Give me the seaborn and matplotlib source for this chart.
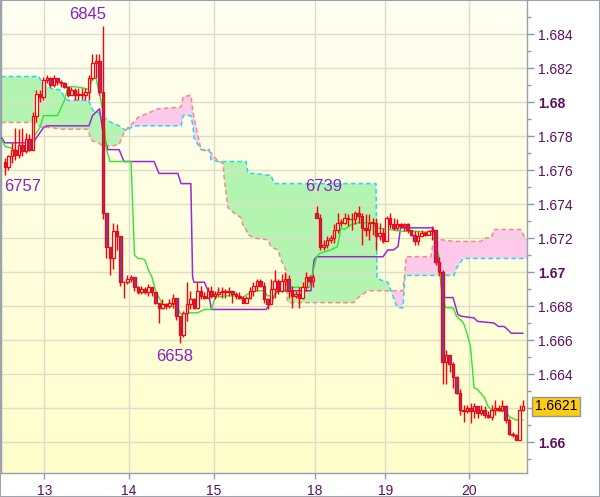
import numpy as np
import pandas as pd
import matplotlib
matplotlib.use("Agg")
import matplotlib.pyplot as plt
from matplotlib.colors import LinearSegmentedColormap
from matplotlib.patches import Rectangle
import seaborn as sns

# all prices are given in pips above 1.6600
BASE = 1.66

open_pips = [
    165, 162, 168, 172, 169, 175, 171, 178, 172, 192,
    205, 203, 213, 214, 210, 214, 212, 211, 209, 204,
    207, 204, 205, 204, 206, 214, 223, 224, 206, 135,
    115, 108, 124, 121, 94, 94, 96, 97, 91, 88,
    90, 88, 91, 88, 82, 79, 81, 80, 82, 85,
    74, 63, 76, 81, 84, 79, 89, 86, 85, 89,
    86, 87, 88, 89, 88, 89, 87, 86, 85, 82,
    85, 89, 92, 95, 92, 84, 81, 90, 95, 89,
    95, 96, 89, 86, 87, 85, 91, 97, 95, 135,
    132, 115, 116, 119, 120, 125, 129, 129, 132, 131,
    131, 135, 133, 126, 125, 129, 129, 121, 123, 118,
    132, 128, 126, 128, 127, 128, 125, 122, 118, 121,
    123, 122, 124, 125, 106, 100, 47, 51, 46, 38,
    29, 19, 18, 20, 18, 21, 17, 19, 16, 15,
    19, 20, 19, 21, 13, 5, 4, 1, 19,
]
high_pips = [
    167, 169, 176, 185, 184, 185, 182, 181, 194, 207,
    207, 215, 216, 215, 216, 214, 213, 212, 209, 209,
    208, 208, 208, 208, 216, 228, 228, 228, 245, 135,
    115, 129, 128, 121, 95, 98, 98, 97, 92, 92,
    91, 93, 91, 88, 82, 84, 82, 84, 87, 85,
    74, 77, 94, 89, 85, 94, 92, 88, 91, 92,
    89, 91, 91, 90, 91, 89, 88, 88, 86, 86,
    91, 94, 96, 96, 94, 85, 96, 101, 96, 99,
    100, 98, 92, 89, 91, 94, 100, 98, 99, 139,
    134, 119, 121, 122, 128, 135, 131, 135, 134, 135,
    136, 139, 135, 134, 134, 132, 132, 129, 126, 133,
    135, 132, 131, 129, 129, 129, 125, 124, 124, 125,
    124, 125, 127, 125, 109, 101, 54, 51, 47, 39,
    31, 22, 22, 23, 23, 21, 22, 21, 18, 22,
    25, 22, 25, 22, 14, 6, 5, 22, 25,
]
low_pips = [
    157, 160, 164, 166, 167, 168, 170, 171, 172, 188,
    200, 201, 211, 209, 209, 210, 209, 208, 203, 204,
    201, 201, 202, 201, 201, 213, 214, 204, 131, 108,
    98, 102, 113, 92, 85, 93, 94, 89, 87, 87,
    87, 86, 86, 81, 70, 78, 78, 79, 79, 72,
    58, 62, 71, 78, 78, 79, 84, 84, 85, 85,
    84, 86, 85, 85, 86, 82, 84, 84, 82, 82,
    84, 86, 89, 91, 82, 78, 81, 85, 87, 88,
    89, 85, 79, 85, 79, 84, 89, 93, 91, 132,
    113, 113, 114, 117, 117, 123, 127, 128, 127, 125,
    128, 129, 116, 121, 119, 122, 113, 119, 117, 118,
    126, 125, 125, 126, 124, 123, 121, 116, 116, 121,
    121, 122, 119, 104, 98, 34, 34, 41, 32, 28,
    16, 12, 17, 11, 14, 14, 16, 14, 14, 13,
    16, 18, 18, 11, 4, 3, 1, 1, 18,
]
close_pips = [
    162, 168, 172, 169, 175, 171, 178, 172, 192, 205,
    203, 213, 214, 210, 214, 212, 211, 209, 204, 207,
    204, 205, 204, 206, 214, 223, 224, 206, 135, 115,
    108, 124, 121, 94, 94, 96, 97, 91, 88, 90,
    88, 91, 88, 82, 79, 81, 80, 82, 85, 74,
    63, 76, 81, 84, 79, 89, 86, 85, 89, 86,
    87, 88, 89, 88, 89, 87, 86, 85, 82, 85,
    89, 92, 95, 92, 84, 81, 90, 95, 89, 95,
    96, 89, 86, 87, 85, 91, 97, 95, 97, 132,
    115, 116, 119, 120, 125, 129, 129, 132, 131, 131,
    135, 133, 126, 125, 129, 129, 121, 123, 118, 132,
    128, 126, 128, 127, 128, 125, 122, 118, 121, 123,
    122, 124, 125, 106, 100, 47, 51, 46, 38, 29,
    19, 18, 20, 18, 21, 17, 19, 16, 15, 19,
    20, 19, 21, 13, 5, 4, 1, 19, 21,
]

# Tenkan-sen (green) and Kijun-sen (purple): (bar, pips) vertices
tenkan_bar = [-1, 0, 3, 4, 5, 7, 8, 10, 11, 15, 17, 18, 20, 23, 24, 25, 26, 27, 28, 29,
              30, 36, 37, 38, 39, 40, 41, 42, 43, 44, 45, 49, 50, 51, 52, 55, 57, 59, 60, 63,
              67, 68, 70, 72, 74, 75, 77, 78, 81, 82, 87, 89, 90, 93, 95, 96, 97, 99, 101, 105,
              106, 110, 113, 118, 121, 122, 123, 124, 125, 126, 128, 129, 131, 132, 133, 134, 135, 137, 138, 139,
              142, 143, 144, 146, 148]
tenkan_pips = [178, 174, 172, 169, 172, 172, 179, 185, 192, 192, 201, 209, 209, 208, 207, 214, 214, 205, 194, 172,
               165, 165, 110, 108, 108, 107, 101, 97, 89, 85, 81, 81, 76, 74, 76, 76, 78, 78, 85, 86,
               86, 85, 88, 89, 89, 86, 86, 89, 89, 91, 91, 109, 111, 113, 115, 126, 125, 128, 129, 129,
               126, 125, 124, 124, 123, 122, 117, 109, 84, 79, 79, 74, 70, 64, 56, 32, 31, 26, 21, 19,
               18, 19, 15, 13, 13]
kijun_bar = [-1, 0, 8, 11, 12, 24, 25, 26, 27, 28, 29.4, 32.6, 34, 42.6, 44, 49.4, 50.3, 53.1, 53.6, 54,
             57, 58, 59, 74.6, 76, 77.4, 78, 87.4, 88.3, 89, 108, 109.4, 111, 112.3, 113, 122.3, 123, 124, 125, 128,
             129.4, 130.3, 134, 135, 139.7, 141, 142.6, 143.7, 144.6, 148]
kijun_pips = [179, 176, 176, 185, 186, 186, 192, 194, 196, 182, 172, 172, 165, 165, 158, 158, 152, 152, 97, 94,
              94, 89, 78, 78, 82, 88, 89, 89, 107, 109, 109, 113, 113, 115, 126, 126, 119, 105, 85, 85,
              75, 74, 73, 71, 70, 68, 68, 66, 64, 64]

# Kumo: Senkou span A (cyan) and span B (salmon) on a shared bar grid
cloud_bar = [-1.1, 8.3, 9.7, 10.9, 12.3, 13.1, 16.0, 16.9, 18.0, 23.7,
             24.6, 25.1, 26.6, 27.4, 28.3, 30.3, 32.6, 34.0, 35.1, 35.4,
             36.6, 36.9, 38.0, 43.7, 50.3, 50.9, 53.1, 53.7, 54.0, 56.0,
             58.3, 58.9, 60.9, 62.3, 62.6, 63.7, 64.6, 67.4, 68.3, 68.9,
             69.4, 70.3, 71.1, 75.1, 76.0, 76.9, 78.0, 78.9, 80.3, 80.6,
             80.9, 84.6, 99.7, 100.9, 103.7, 106.0, 106.3, 109.4, 110.3, 111.7,
             112.3, 113.7, 114.3, 114.6, 121.7, 122.3, 124.6, 128.3, 128.9, 130.9,
             136.0, 136.9, 138.9, 139.7, 141.7, 142.6, 147.4, 148.3, 149.4]
span_a_pips = [215, 215, 215, 210, 209, 208, 207, 203, 201, 201,
               198, 195, 194, 192, 191, 188, 186, 184, 183, 184,
               186, 186, 186, 186, 186, 192, 192, 186, 179, 172,
               172, 166, 165, 165, 165, 165, 165, 165, 165, 165,
               158, 158, 158, 157, 157, 152, 152, 152, 152, 152,
               152, 152, 152, 152, 152, 152, 96, 94, 89, 81,
               79, 79, 98, 98, 98, 98, 98, 98, 102, 108,
               108, 108, 108, 108, 108, 108, 108, 108, 108]
span_b_pips = [188, 188, 186, 185, 185, 185, 184, 184, 184, 184,
               178, 177, 176, 175, 174, 174, 175, 182, 185, 185,
               188, 188, 191, 196, 197, 203, 204, 194, 191, 172,
               171, 170, 165, 164, 156, 138, 136, 132, 126, 125,
               122, 121, 120, 119, 115, 114, 113, 107, 101, 85,
               82, 82, 82, 85, 89, 89, 89, 89, 89, 89,
               89, 89, 100, 109, 109, 117, 119, 118, 118, 118,
               118, 120, 120, 125, 125, 125, 125, 121, 119]

day_labels = ["13", "14", "15", "18", "19", "20"]
day_ticks = [11.2, 35.3, 59.7, 88.5, 108.7, 132.5]

# extreme labels: text, bar, pips
extreme_labels = [("6845", 23.7, 247, "bottom"), ("6757", 4.9, 155, "top"),
                  ("6658", 48.6, 55, "top"), ("6739", 91.1, 155, "top")]
last_price = 1.6621


def to_price(pips):
    return BASE + np.asarray(pips, dtype=float) / 10000.0


candles = pd.DataFrame({
    "bar": np.arange(len(close_pips)),
    "open": to_price(open_pips),
    "high": to_price(high_pips),
    "low": to_price(low_pips),
    "close": to_price(close_pips),
})
tenkan = pd.DataFrame({"bar": tenkan_bar, "price": to_price(tenkan_pips)})
kijun = pd.DataFrame({"bar": kijun_bar, "price": to_price(kijun_pips)})
cloud = pd.DataFrame({"bar": cloud_bar, "a": to_price(span_a_pips), "b": to_price(span_b_pips)})

sns.set_theme(style="white")
plt.rcParams["font.family"] = ["Liberation Sans", "DejaVu Sans"]

fig = plt.figure(figsize=(6, 4.97), dpi=100)
ax = fig.add_axes([1 / 600, 24 / 497, 526 / 600, 473 / 497])

# background gradient
bg = LinearSegmentedColormap.from_list("bg", ["#ffffcb", "#fefef3"])
ax.imshow(np.linspace(0, 1, 256)[:, None], cmap=bg, origin="lower", extent=(0, 1, 0, 1),
          transform=ax.transAxes, aspect="auto", zorder=0)

# cloud
a = cloud["a"].to_numpy()
b = cloud["b"].to_numpy()
ax.fill_between(cloud["bar"], a, b, where=a >= b, interpolate=True, color="#b3f5b0", lw=0, zorder=1)
ax.fill_between(cloud["bar"], a, b, where=a < b, interpolate=True, color="#ffc9ec", lw=0, zorder=1)
sns.lineplot(data=cloud, x="bar", y="a", ax=ax, color="#22d8f2", lw=1.1, linestyle=(0, (3, 2)),
             sort=False, estimator=None, zorder=2)
sns.lineplot(data=cloud, x="bar", y="b", ax=ax, color="#f28a8a", lw=1.1, linestyle=(0, (3, 2)),
             sort=False, estimator=None, zorder=2)

# tenkan / kijun
sns.lineplot(data=kijun, x="bar", y="price", ax=ax, color="#9a2ad0", lw=1.1,
             sort=False, estimator=None, zorder=3)
sns.lineplot(data=tenkan, x="bar", y="price", ax=ax, color="#2ee62e", lw=1.0,
             sort=False, estimator=None, zorder=3)

# candles
o = candles["open"].to_numpy()
c = candles["close"].to_numpy()
up = c >= o
ax.vlines(candles["bar"], candles["low"], candles["high"], color="#ff0000", lw=1.0, zorder=4)
ax.bar(candles["bar"], np.maximum(np.abs(c - o), 0.00002), bottom=np.minimum(o, c), width=0.7,
       color=np.where(up, "#ffffff", "#7840b0"), edgecolor="#ff0000", linewidth=0.9, zorder=5)

for text, bar, pips, va in extreme_labels:
    ax.text(bar, to_price(pips), text, color="#8a1fc8", fontsize=12, ha="center", va=va, zorder=6)

ax.set_xlim(-1.14, 149.14)
ax.set_ylim(BASE - 18.2 / 10000, BASE + 260 / 10000)
ax.set_xlabel("")
ax.set_ylabel("")

# axes / ticks
ax.yaxis.tick_right()
yticks = np.round(np.arange(1.660, 1.6845, 0.002), 3)
ax.set_yticks(yticks)
# the 1.662 label is covered by the last-price box
ylabels = ["" if abs(v - 1.662) < 1e-9 else ("%.3f" % v).rstrip("0") for v in yticks]
ax.set_yticklabels(ylabels)
for lab in ax.get_yticklabels():
    if len(lab.get_text()) == 4:
        lab.set_fontweight("bold")
ax.set_yticks(np.round(np.arange(1.659, 1.686, 0.002), 3), minor=True)
ax.tick_params(axis="y", which="major", length=5, width=1, color="#8e9aa5", labelcolor="#5c0f60",
               labelsize=10, pad=3, direction="out", right=True, left=False)
ax.tick_params(axis="y", which="minor", length=3, width=1, color="#8e9aa5", direction="out",
               right=True, left=False)
ax.set_xticks(day_ticks)
ax.set_xticklabels(day_labels)
ax.tick_params(axis="x", which="major", length=4, width=1, color="#8e9aa5", labelcolor="#5c0f60",
               labelsize=10, pad=4, direction="out", bottom=True)

ax.grid(True, which="major", color="#deddca", lw=1.0)
ax.set_axisbelow("line")
for side in ["right", "bottom", "left"]:
    ax.spines[side].set_color("#97a1ab")
    ax.spines[side].set_linewidth(1.0)
ax.spines["top"].set_visible(False)

ax.annotate("%.4f" % last_price, xy=(1, last_price), xycoords=("axes fraction", "data"),
            xytext=(5.5, 0), textcoords="offset points", ha="left", va="center", fontsize=10,
            color="black", annotation_clip=False,
            bbox=dict(boxstyle="square,pad=0.18", fc="#ffcc14", ec="#8f969c", lw=1))

fig.patches.append(Rectangle((0, 0), 1, 1, transform=fig.transFigure, fill=False,
                             ec="#9ba5ad", lw=1.5, zorder=10))

fig.savefig("out.png", dpi=100)
